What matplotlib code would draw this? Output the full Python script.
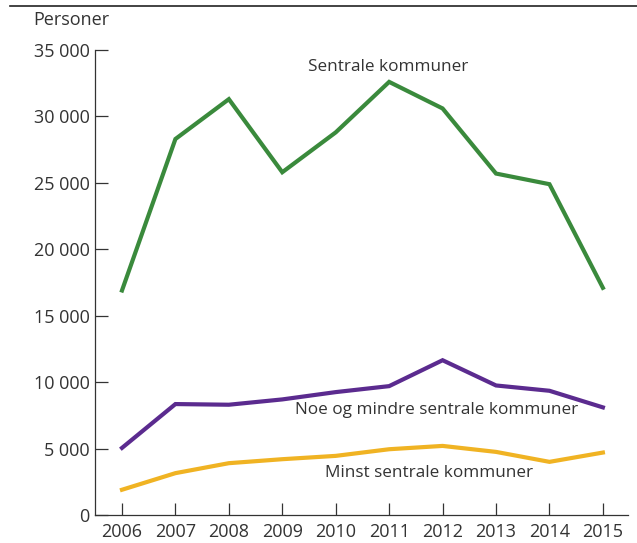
import matplotlib.pyplot as plt
from matplotlib.lines import Line2D

years = [2006, 2007, 2008, 2009, 2010, 2011, 2012, 2013, 2014, 2015]
sentrale = [16900, 28300, 31300, 25800, 28800, 32600, 30600, 25700, 24900, 17100]
noe_mindre = [5050, 8350, 8300, 8700, 9250, 9700, 11650, 9750, 9350, 8100]
minst = [1900, 3150, 3900, 4200, 4450, 4950, 5200, 4750, 4000, 4700]
yticks = [0, 5000, 10000, 15000, 20000, 25000, 30000, 35000]
ytick_labels = ["0", "5 000", "10 000", "15 000", "20 000", "25 000", "30 000", "35 000"]

plt.rcParams['font.family'] = ['Open Sans', 'DejaVu Sans']
txt = '#333333'

fig = plt.figure(figsize=(6.37, 5.43), dpi=100)
ax = fig.add_axes([95/637, 28/543, 533/637, 465/543])

ax.plot(years, sentrale, color='#3a8a3c', lw=3, solid_joinstyle='miter')
ax.plot(years, noe_mindre, color='#5b2b8f', lw=3, solid_joinstyle='miter')
ax.plot(years, minst, color='#f0b323', lw=3, solid_joinstyle='miter')

ax.set_xlim(2005.495, 2015.47)
ax.set_ylim(0, 35000)
ax.set_xticks(years)
ax.set_xticklabels([str(y) for y in years])
ax.set_yticks(yticks)
ax.set_yticklabels(ytick_labels)
ax.tick_params(direction='in', length=9, width=0.9, color='#333333',
               labelsize=13, labelcolor=txt, pad=6)
ax.tick_params(axis='y', pad=4)
for s in ['top', 'right']:
    ax.spines[s].set_visible(False)
for s in ['left', 'bottom']:
    ax.spines[s].set_linewidth(0.9)
    ax.spines[s].set_color('#333333')

# series labels
ax.text(2010.98, 33700, "Sentrale kommuner", fontsize=12.3, color=txt, ha='center', va='center')
ax.text(2011.88, 7900, "Noe og mindre sentrale kommuner", fontsize=12.3, color=txt, ha='center', va='center')
ax.text(2011.74, 3160, "Minst sentrale kommuner", fontsize=12.3, color=txt, ha='center', va='center')
fig.text(33/637, 1 - 20/543, "Personer", fontsize=13, color=txt, ha='left', va='center')

fig.add_artist(Line2D([10/637, 1], [1 - 6/543, 1 - 6/543], color='#222222', lw=1.2,
                      transform=fig.transFigure))

fig.savefig('out.png', dpi=100)
